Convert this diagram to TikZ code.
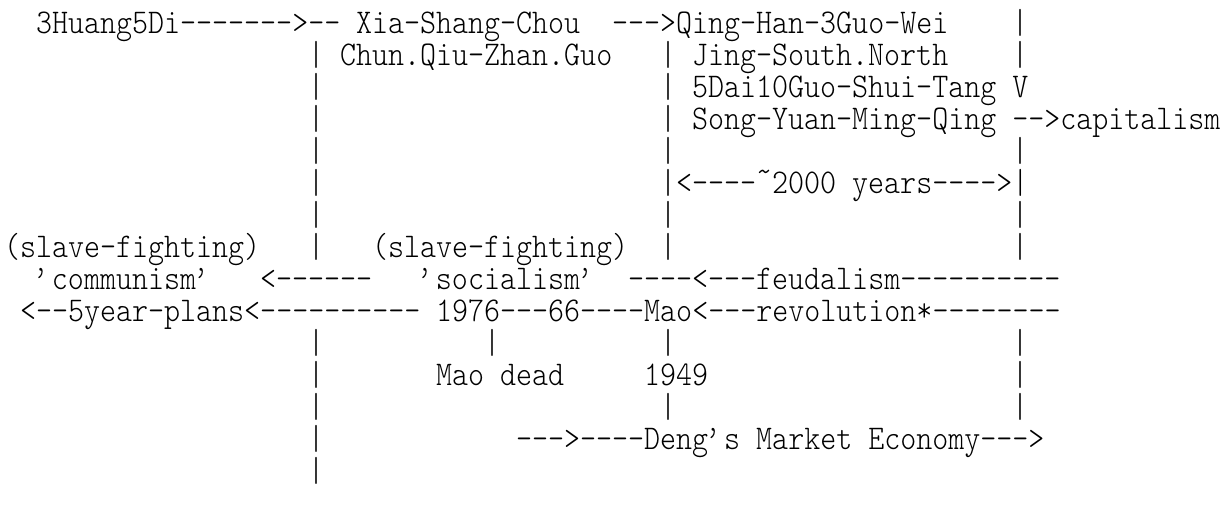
\documentclass[tikz,border=0pt]{standalone}
\usepackage{fontspec}
\usetikzlibrary{positioning}
\newfontfamily\asciifont{lmmonolt10-regular.otf}[FakeStretch=0.88]
\newcommand{\apo}{\makebox[12pt][l]{\kern-2.5pt’}}
\newcommand{\hitilde}{\raisebox{0.3em}{\textasciitilde}}
\tikzset{
  txt/.style={anchor=base west, inner sep=0pt, outer sep=0pt,
    font=\asciifont\fontsize{26pt}{28pt}\selectfont}
}

\begin{document}
\begin{tikzpicture}[x=12pt, y=-24pt]
  \useasboundingbox (-0.25,-1.03125) rectangle (76.4375,15.03125);

  % --- Top row: early dynasties ---
  \node[txt] (huang) at (2,0) {3Huang5Di------->--};
  \node[txt] (xia) at (22,0) {Xia-Shang-Chou};
  \node[txt] (qing) at (38,0) {--->Qing-Han-3Guo-Wei};
  \node[txt] (chun) at (21,1) {Chun.Qiu-Zhan.Guo};
  \node[txt] (jing) at (43,1) {Jing-South.North};
  \node[txt] (dai) at (43,2) {5Dai10Guo-Shui-Tang V};
  \node[txt] (song) at (43,3) {Song-Yuan-Ming-Qing -->capitalism};
  \node[txt] (span) at (41,5) {|<----\hitilde2000 years---->|};

  % --- Vertical bars ---
  \foreach \r in {1,2,3,4,5,6,7,10,11,12,13,14}
    \node[txt] (lbar\r) at (19,\r) {|};
  \foreach \r in {1,2,3,4,6,7,10,12}
    \node[txt] (mbar\r) at (41,\r) {|};
  \foreach \r in {0,1,4,6,7,10,11,12}
    \node[txt] (rbar\r) at (63,\r) {|};
  \node[txt] (cbar) at (30,10) {|};

  % --- Middle rows: stages ---
  \node[txt] (slaveL) at (0,7) {(slave-fighting)};
  \node[txt] (slaveR) at (23,7) {(slave-fighting)};
  \node[txt] (commu) at (2,8) {\apo communism\apo};
  \node[txt] (toCommu) at (16,8) {<------};
  \node[txt] (socia) at (26,8) {\apo socialism\apo};
  \node[txt] (feud) at (39,8) {----<---feudalism----------};
  \node[txt] (plans) at (1,9) {<--5year-plans<----------};
  \node[txt] (mao) at (27,9) {1976---66----Mao<---revolution*--------};

  % --- Bottom rows: dates and market ---
  \node[txt] (dead) at (27,11) {Mao dead};
  \node[txt] (y1949) at (40,11) {1949};
  \node[txt] (deng) at (32,13) {--->----Deng\apo s Market Economy--->};
\end{tikzpicture}
\end{document}
